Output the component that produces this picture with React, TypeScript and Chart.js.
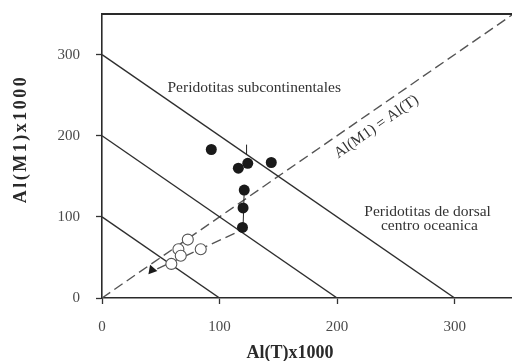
import React, { useEffect, useRef } from "react";
import { Chart, registerables } from "chart.js";
Chart.register(...registerables);

const xTickValues = [0, 100, 200, 300];
const yTickValues = [0, 100, 200, 300];
const axisMax = 350;

const filledX = [93, 124, 116, 144, 121, 120, 119.5];
const filledY = [183, 166, 160, 167, 133, 111, 87];
const openX = [73, 65, 67, 59, 84];
const openY = [72, 60, 52, 42, 60];
const triangleX = [42.5];
const triangleY = [34.5];
const boundaryLevels = [100, 200, 300];
const equalLineX = [0, 350];
const equalLineY = [0, 350];
const trendX = [47, 118];
const trendY = [36, 83];
const barTopX = [123, 123];
const barTopY = [177, 189];
const barLowX = [121, 120];
const barLowY = [133, 87];

const labelSub = "Peridotitas subcontinentales";
const labelDorsal1 = "Peridotitas de dorsal";
const labelDorsal2 = "centro oceanica";
const labelEqual = "Al(M1) = Al(T)";
const xTitle = "Al(T)x1000";
const yTitle = "Al(M1)x1000";

const pts = (xs: number[], ys: number[]) => xs.map((x, i) => ({ x, y: ys[i] }));

const SERIF = "'Liberation Serif', 'Times New Roman', serif";

const overlay = {
  id: "overlay",
  afterDraw(chart: any) {
    const { ctx, chartArea, scales } = chart;
    const xs = scales.x;
    const ys = scales.y;
    ctx.save();
    ctx.strokeStyle = "#2a2a2a";
    ctx.lineWidth = 2;
    ctx.beginPath();
    ctx.moveTo(chartArea.left, chartArea.top);
    ctx.lineTo(chartArea.right + 10, chartArea.top);
    ctx.stroke();

    ctx.fillStyle = "#333";
    ctx.font = `15.5px ${SERIF}`;
    ctx.textAlign = "center";
    ctx.textBaseline = "middle";
    ctx.fillText(labelSub, xs.getPixelForValue(129.5), ys.getPixelForValue(259));
    ctx.fillText(labelDorsal1, xs.getPixelForValue(277), ys.getPixelForValue(106));
    ctx.fillText(labelDorsal2, xs.getPixelForValue(278.5), ys.getPixelForValue(89));

    ctx.save();
    ctx.translate(xs.getPixelForValue(233.5), ys.getPixelForValue(211));
    ctx.rotate((-35 * Math.PI) / 180);
    ctx.fillText(labelEqual, 0, 0);
    ctx.restore();

    ctx.fillStyle = "#2a2a2a";
    ctx.font = `bold 18px ${SERIF}`;
    ctx.fillText(xTitle, xs.getPixelForValue(160), 353);

    ctx.save();
    ctx.translate(21, ys.getPixelForValue(196));
    ctx.rotate(-Math.PI / 2);
    (ctx as any).letterSpacing = "2.5px";
    ctx.fillText(yTitle, 0, 0);
    ctx.restore();

    ctx.restore();
  },
};

export default function App() {
  const ref = useRef<HTMLCanvasElement | null>(null);
  useEffect(() => {
    if (!ref.current) return;
    const lineColor = "#2e2e2e";
    const datasets: any[] = [
      {
        data: pts(filledX, filledY),
        showLine: false,
        pointRadius: 5.5,
        pointBackgroundColor: "#1a1a1a",
        pointBorderColor: "#1a1a1a",
        pointBorderWidth: 0,
        order: 0,
      },
      {
        data: pts(openX, openY),
        showLine: false,
        pointRadius: 5.5,
        pointBackgroundColor: "#ffffff",
        pointBorderColor: "#555",
        pointBorderWidth: 1.1,
        order: 0,
      },
      {
        data: pts(triangleX, triangleY),
        showLine: false,
        pointStyle: "triangle",
        pointRadius: 5.5,
        rotation: -20,
        pointBackgroundColor: "#1a1a1a",
        pointBorderColor: "#1a1a1a",
        pointBorderWidth: 0,
        order: 0,
      },
      ...boundaryLevels.map((k) => ({
        data: pts([0, k], [k, 0]),
        showLine: true,
        borderColor: lineColor,
        borderWidth: 1.4,
        pointRadius: 0,
        order: 2,
      })),
      {
        data: pts(equalLineX, equalLineY),
        showLine: true,
        borderColor: "#555",
        borderWidth: 1.4,
        borderDash: [10, 5],
        pointRadius: 0,
        order: 2,
      },
      {
        data: pts(trendX, trendY),
        showLine: true,
        borderColor: "#555",
        borderWidth: 1.4,
        borderDash: [10, 5],
        pointRadius: 0,
        order: 2,
      },
      {
        data: pts(barTopX, barTopY),
        showLine: true,
        borderColor: "#222",
        borderWidth: 1,
        pointRadius: 0,
        order: 1,
      },
      {
        data: pts(barLowX, barLowY),
        showLine: true,
        borderColor: "#222",
        borderWidth: 1,
        pointRadius: 0,
        order: 1,
      },
    ];
    const chart = new Chart(ref.current, {
      type: "scatter",
      data: { datasets },
      options: {
        animation: false,
        responsive: false,
        layout: { padding: { top: 14, right: 6, left: 0, bottom: 0 } },
        plugins: { legend: { display: false }, tooltip: { enabled: false } },
        scales: {
          x: {
            type: "linear",
            min: 0,
            max: axisMax,
            afterFit: (s: any) => {
              s.height = 63;
              s.paddingLeft = 0;
              s.paddingRight = 0;
            },
            afterBuildTicks: (s: any) => {
              s.ticks = xTickValues.map((v) => ({ value: v }));
            },
            ticks: {
              stepSize: 100,
              includeBounds: false,
              padding: 14,
              color: "#4a4a4a",
              font: { family: SERIF, size: 15 },
            },
            grid: { drawOnChartArea: false, tickLength: 6, tickColor: "#333", tickWidth: 1.3 },
            border: { color: "#2a2a2a", width: 1.6 },
          },
          y: {
            type: "linear",
            min: 0,
            max: axisMax,
            afterFit: (s: any) => {
              s.width = 102;
              s.paddingTop = 0;
              s.paddingBottom = 0;
            },
            afterBuildTicks: (s: any) => {
              s.ticks = yTickValues.map((v) => ({ value: v }));
            },
            ticks: {
              stepSize: 100,
              includeBounds: false,
              padding: 16,
              color: "#4a4a4a",
              font: { family: SERIF, size: 15 },
            },
            grid: { drawOnChartArea: false, tickLength: 6, tickColor: "#333", tickWidth: 1.3 },
            border: { color: "#2a2a2a", width: 1.6 },
          },
        },
      },
      plugins: [overlay],
    } as any);
    return () => chart.destroy();
  }, []);
  return (
    <div
      style={{
        position: "fixed",
        left: 0,
        top: 0,
        width: 512,
        height: 361,
        overflow: "hidden",
        background: "#fff",
      }}
    >
      <canvas ref={ref} width={520} height={361} style={{ width: 520, height: 361 }} />
    </div>
  );
}
